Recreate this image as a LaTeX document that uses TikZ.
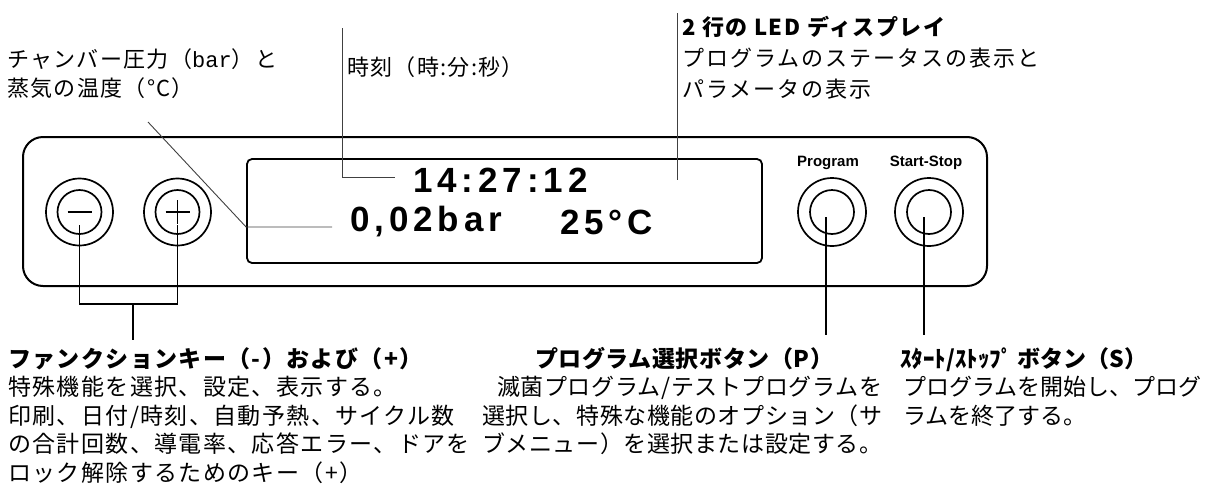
\documentclass[tikz,border=0pt]{standalone}
\usepackage{fontspec}
\setmainfont{Noto Sans CJK JP}
\newfontfamily\jpwide{Noto Sans CJK JP}[LetterSpace=6]
\newfontfamily\jphead{Noto Sans CJK JP}[LetterSpace=7]
\newfontfamily\jpled{Noto Sans CJK JP}[LetterSpace=9]
\newfontfamily\jpmid{Noto Sans CJK JP}[LetterSpace=2.5]
\newfontfamily\arialf{Liberation Sans}
\newfontfamily\lcdf{Liberation Sans}[LetterSpace=14]
\newfontfamily\monof{Liberation Mono}
\begin{document}
\begin{tikzpicture}[x=1pt,y=-1pt,
  panelbox/.style={draw, line width=2pt, rounded corners=20pt},
  dispbox/.style={draw, line width=1.8pt, rounded corners=5pt, inner sep=0, minimum width=515pt, minimum height=104pt},
  ring/.style={circle, draw, line width=1.7pt, inner sep=0},
  leader/.style={line width=0.9pt, draw=black!75},
  btnleader/.style={line width=1.1pt, draw=black},
  toplbl/.style={inner sep=0, anchor=north west, align=left, font=\jpwide\fontsize{22}{29}\selectfont},
  ledlbl/.style={inner sep=0, anchor=north west, align=left, font=\jpled\fontsize{22}{31}\selectfont},
  botlbl/.style={inner sep=0, anchor=north west, align=left, font=\fontsize{23}{28.5}\selectfont},
  botwide/.style={inner sep=0, anchor=north west, align=left, font=\jpwide\fontsize{23}{28.5}\selectfont},
  botmid/.style={inner sep=0, anchor=north west, align=left, font=\jpmid\fontsize{23}{28.5}\selectfont},
  lcd/.style={inner sep=0, anchor=west, font=\lcdf\bfseries\fontsize{35}{35}\selectfont},
  keylbl/.style={inner sep=0, font=\arialf\bfseries\fontsize{15}{15}\selectfont}
]
\useasboundingbox (0,0) rectangle (1212,493);

% panel and display
\draw[panelbox] (23,137) rectangle (987,286);
\node[dispbox] (disp) at (504.5,211) {};

% buttons
\node[ring, minimum size=67pt] (mo) at (79.5,212) {};
\node[ring, minimum size=44pt] (mi) at (79.5,212) {};
\node[ring, minimum size=67pt] (po) at (177.5,212) {};
\node[ring, minimum size=44pt] (pi) at (177.5,212) {};
\node[ring, minimum size=68pt] (go) at (832,212) {};
\node[ring, minimum size=44pt] (gi) at (832,212) {};
\node[ring, minimum size=68pt] (so) at (929,212) {};
\node[ring, minimum size=44pt] (si) at (929,212) {};
\draw[line width=1.7pt] ([xshift=-12pt]mi.center) -- ([xshift=12pt]mi.center);
\draw[line width=1.7pt] ([xshift=-12pt]pi.center) -- ([xshift=12pt]pi.center);
\draw[line width=1.7pt] ([yshift=-12pt]pi.center) -- ([yshift=12pt]pi.center);

\node[keylbl] (prog) at (828,163) {Program};
\node[keylbl] (ss) at (926,163) {Start-Stop};

% display text
\node[lcd] (clock) at (413,180) {14:27:12};
\node[lcd] (pres) at (350,222) {0,02bar};
\node[lcd] (temp) at (560,222) {25°C};

% top labels
\node[toplbl] (chamber) at (7,48) {チャンバー圧力（{\monof bar}）と\\蒸気の温度（°C）};
\node[toplbl] (timel) at (347,56) {時刻（時:分:秒）};
\node[ledlbl] (led) at (682,16) {{\jphead\bfseries 2 行の LED ディスプレイ}\\プログラムのステータスの表示と\\パラメータの表示};

% top leaders
\coordinate (c1) at (148,122);
\coordinate (c2) at (disp.west |- 0,227);
\coordinate (c3) at (332,227);
\draw[leader] (c1) -- (c2) -- (c3);
\coordinate (t1) at (342,28);
\coordinate (t2) at (342,177);
\coordinate (t3) at (395,177);
\draw[leader] (t1) -- (t2) -- (t3);
\coordinate (d1) at (677,13);
\coordinate (d2) at (677,180);
\draw[leader] (d1) -- (d2);

% bottom labels
\node[botwide] (fk) at (8,347) {\textbf{ファンクションキー（-）および（+）}\\特殊機能を選択、設定、表示する。\\印刷、日付/時刻、自動予熱、サイクル数\\の合計回数、導電率、応答エラー、ドアを\\ロック解除するためのキー（+）};
\node[botmid] (pshead) at (535,347) {\textbf{プログラム選択ボタン（P）}};
\node[botmid] (psbody) at (482,376) {\hspace*{15pt}滅菌プログラム/テストプログラムを\\選択し、特殊な機能のオプション（サ\\ブメニュー）を選択または設定する。};
\node[botlbl] (ssl) at (900,347) {\textbf{ｽﾀｰﾄ/ｽﾄｯﾌﾟ ボタン（S）}\\\hspace*{3pt}プログラムを開始し、プログ\\\hspace*{3pt}ラムを終了する。};

% bottom leaders
\coordinate (m1) at ([yshift=-13pt]mi.center);
\coordinate (p1) at ([yshift=-13pt]pi.center);
\coordinate (m2) at (m1 |- 0,304);
\coordinate (p2) at (p1 |- 0,304);
\coordinate (b1) at (133,304);
\coordinate (b2) at (133,340);
\draw[btnleader] (m1) -- (m2) -- (p2) -- (p1);
\draw[btnleader] (b1) -- (b2);
\coordinate (g1) at (826,217);
\coordinate (g2) at (826,335);
\draw[btnleader] (g1) -- (g2);
\coordinate (s1) at (924,217);
\coordinate (s2) at (924,335);
\draw[btnleader] (s1) -- (s2);
\end{tikzpicture}
\end{document}
